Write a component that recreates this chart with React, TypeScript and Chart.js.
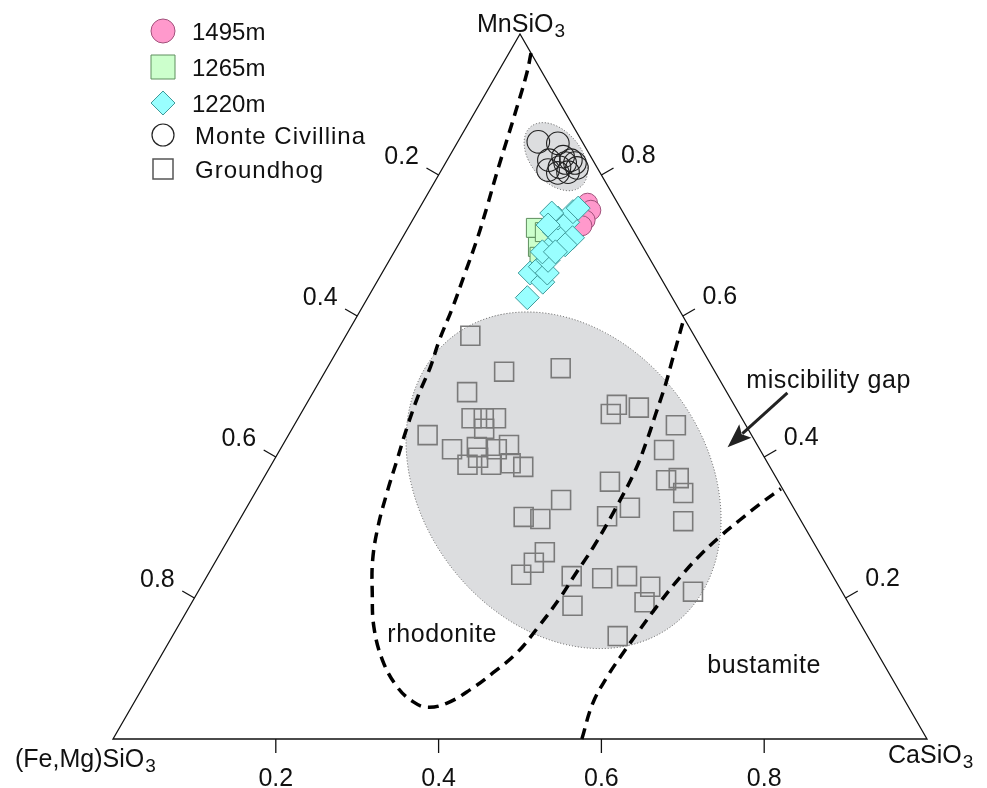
import React, { useEffect, useRef } from 'react';
import { Chart, registerables } from 'chart.js';

Chart.register(...registerables);

// Ternary MnSiO3 – CaSiO3 – (Fe,Mg)SiO3. Every composition is stored as
// CaSiO3 and MnSiO3 mole fractions; (Fe,Mg)SiO3 is the remainder.
const S = Math.sqrt(3) / 2;

// Groundhog pyroxenoids
const groundhogCa = [0.153, 0.220, 0.287, 0.189, 0.213, 0.228, 0.243, 0.236, 0.171, 0.211, 0.240, 0.266, 0.278, 0.249, 0.241, 0.270, 0.293, 0.311, 0.381, 0.347, 0.369, 0.398, 0.392, 0.385, 0.448, 0.487, 0.516, 0.552, 0.556, 0.608, 0.470, 0.547, 0.382, 0.381, 0.411, 0.469, 0.472, 0.496, 0.510, 0.526, 0.428, 0.471, 0.449, 0.546];
const groundhogMn = [0.572, 0.521, 0.526, 0.492, 0.455, 0.455, 0.455, 0.440, 0.431, 0.411, 0.414, 0.411, 0.417, 0.399, 0.389, 0.389, 0.391, 0.386, 0.339, 0.315, 0.312, 0.265, 0.250, 0.233, 0.231, 0.228, 0.231, 0.216, 0.194, 0.209, 0.189, 0.146, 0.474, 0.461, 0.470, 0.445, 0.410, 0.367, 0.370, 0.349, 0.365, 0.328, 0.316, 0.309];

// Monte Civillina
const monteCa = [0.099, 0.124, 0.125, 0.140, 0.152, 0.159, 0.143, 0.131, 0.157, 0.145, 0.165, 0.147];
const monteMn = [0.847, 0.845, 0.821, 0.826, 0.821, 0.817, 0.811, 0.807, 0.804, 0.803, 0.810, 0.817];

// 1495m
const d1495Ca = [0.203, 0.212, 0.212, 0.212];
const d1495Mn = [0.760, 0.750, 0.736, 0.728];

// 1265m
const d1265Ca = [0.157, 0.173, 0.182, 0.171];
const d1265Mn = [0.725, 0.698, 0.684, 0.719];

// 1220m
const d1220Ca = [0.196, 0.182, 0.204, 0.190, 0.203, 0.195, 0.190, 0.194, 0.200, 0.183, 0.177, 0.192, 0.191, 0.195, 0.166, 0.170, 0.209, 0.205, 0.182, 0.198];
const d1220Mn = [0.626, 0.661, 0.648, 0.670, 0.661, 0.679, 0.701, 0.711, 0.715, 0.719, 0.739, 0.733, 0.748, 0.753, 0.746, 0.729, 0.711, 0.701, 0.691, 0.691];

// Rhodonite field boundary
const rhodoniteCa = [0.027, 0.036, 0.048, 0.059, 0.070, 0.082, 0.093, 0.102, 0.111, 0.118, 0.126, 0.131, 0.140, 0.151, 0.162, 0.175, 0.192, 0.215, 0.241, 0.275, 0.312, 0.342, 0.364, 0.385, 0.404, 0.420, 0.435, 0.443, 0.449, 0.451, 0.454, 0.454, 0.451, 0.444, 0.436, 0.428, 0.419, 0.411, 0.403];
const rhodoniteMn = [0.973, 0.945, 0.897, 0.850, 0.803, 0.755, 0.708, 0.661, 0.613, 0.566, 0.528, 0.490, 0.443, 0.396, 0.349, 0.301, 0.254, 0.207, 0.159, 0.112, 0.074, 0.053, 0.045, 0.051, 0.070, 0.094, 0.122, 0.159, 0.200, 0.233, 0.272, 0.325, 0.382, 0.424, 0.462, 0.500, 0.535, 0.566, 0.597];

// Bustamite field boundary
const bustamiteCa = [0.576, 0.564, 0.563, 0.565, 0.569, 0.575, 0.582, 0.591, 0.602, 0.615, 0.628, 0.643];
const bustamiteMn = [0.000, 0.051, 0.088, 0.116, 0.150, 0.194, 0.230, 0.261, 0.287, 0.311, 0.333, 0.355];

// Edge ticks
const edgeTicks = [0.2, 0.4, 0.6, 0.8];
const edgeTickLabels = ['0.2', '0.4', '0.6', '0.8'];

// Shaded composition fields (centre as Ca/Mn fractions, semi-axes in composition units, tilt in degrees)
const groundhogField = { ca: 0.370, mn: 0.367, rx: 0.1745, ry: 0.223, tilt: -37 };
const monteField = { ca: 0.131, mn: 0.826, rx: 0.031, ry: 0.048, tilt: -40 };

// Annotations
const arrowTail = { ca: 0.583, mn: 0.491 };
const arrowTip = { ca: 0.548, mn: 0.414 };
const fieldLabels = [
  { text: 'rhodonite', ca: 0.268, mn: 0.138 },
  { text: 'bustamite', ca: 0.683, mn: 0.094 },
  { text: 'miscibility gap', ca: 0.529, mn: 0.498 },
];

const FONT = '"Liberation Sans", Arial, sans-serif';

const toXY = (ca: number, mn: number) => ({ x: ca + mn / 2, y: mn * S });
const pts = (ca: number[], mn: number[]) => ca.map((c, i) => toXY(c, mn[i]));

function chem(ctx: CanvasRenderingContext2D, base: string, sub: string, x: number, y: number, size: number) {
  ctx.save();
  ctx.textAlign = 'left';
  ctx.textBaseline = 'alphabetic';
  ctx.fillStyle = '#111';
  ctx.font = `${size}px ${FONT}`;
  ctx.fillText(base, x, y);
  const w = ctx.measureText(base).width;
  ctx.font = `${Math.round(size * 0.75)}px ${FONT}`;
  ctx.fillText(sub, x + w + 1, y + 5);
  ctx.restore();
}

function marker(ctx: CanvasRenderingContext2D, kind: string, x: number, y: number, r: number, fill: string, stroke: string, lw: number) {
  ctx.save();
  ctx.beginPath();
  if (kind === 'circle') ctx.arc(x, y, r, 0, Math.PI * 2);
  else if (kind === 'square') ctx.rect(x - r, y - r, 2 * r, 2 * r);
  else {
    ctx.moveTo(x, y - r);
    ctx.lineTo(x + r, y);
    ctx.lineTo(x, y + r);
    ctx.lineTo(x - r, y);
    ctx.closePath();
  }
  if (fill) {
    ctx.fillStyle = fill;
    ctx.fill();
  }
  ctx.lineWidth = lw;
  ctx.strokeStyle = stroke;
  ctx.stroke();
  ctx.restore();
}

const ternaryDecor = {
  id: 'ternaryDecor',
  beforeDatasetsDraw(chart: any) {
    const { ctx, chartArea } = chart;
    const xs = chart.scales.x;
    const ys = chart.scales.y;
    const P = (ca: number, mn: number) => {
      const p = toXY(ca, mn);
      return [xs.getPixelForValue(p.x), ys.getPixelForValue(p.y)];
    };
    const unit = chartArea.width;

    // shaded fields
    for (const f of [groundhogField, monteField]) {
      const [cx, cy] = P(f.ca, f.mn);
      ctx.save();
      ctx.beginPath();
      ctx.ellipse(cx, cy, f.rx * unit, f.ry * unit, (f.tilt * Math.PI) / 180, 0, Math.PI * 2);
      ctx.fillStyle = '#dcdddf';
      ctx.fill();
      ctx.setLineDash([1, 2]);
      ctx.lineWidth = 1;
      ctx.strokeStyle = '#555';
      ctx.stroke();
      ctx.restore();
    }

    // triangle frame
    const A = P(0, 0); // (Fe,Mg)SiO3
    const B = P(1, 0); // CaSiO3
    const C = P(0, 1); // MnSiO3
    ctx.save();
    ctx.strokeStyle = '#111';
    ctx.lineWidth = 1.3;
    ctx.beginPath();
    ctx.moveTo(A[0], A[1]);
    ctx.lineTo(B[0], B[1]);
    ctx.lineTo(C[0], C[1]);
    ctx.closePath();
    ctx.stroke();

    ctx.fillStyle = '#111';
    ctx.font = `25px ${FONT}`;
    ctx.textAlign = 'center';
    ctx.textBaseline = 'alphabetic';
    const len = 14;
    edgeTicks.forEach((t, i) => {
      // bottom edge: CaSiO3
      const [bx, by] = P(t, 0);
      ctx.beginPath();
      ctx.moveTo(bx, by);
      ctx.lineTo(bx, by + len);
      ctx.stroke();
      ctx.fillText(edgeTickLabels[i], bx, by + 47);
      // left edge: (Fe,Mg)SiO3
      const [lx, ly] = P(0, 1 - t);
      ctx.beginPath();
      ctx.moveTo(lx, ly);
      ctx.lineTo(lx - len * S, ly - len / 2);
      ctx.stroke();
      ctx.fillText(edgeTickLabels[i], lx - 37, ly - 11);
      // right edge: MnSiO3
      const [rx, ry] = P(1 - t, t);
      ctx.beginPath();
      ctx.moveTo(rx, ry);
      ctx.lineTo(rx + len * S, ry - len / 2);
      ctx.stroke();
      ctx.fillText(edgeTickLabels[i], rx + 37, ry - 12);
    });
    ctx.restore();

    // apex labels
    chem(ctx, 'MnSiO', '3', C[0] - 43, C[1] - 2, 25);
    chem(ctx, '(Fe,Mg)SiO', '3', A[0] - 98, A[1] + 28, 25);
    chem(ctx, 'CaSiO', '3', B[0] - 39, B[1] + 24, 25);
  },
  afterDatasetsDraw(chart: any) {
    const { ctx } = chart;
    const xs = chart.scales.x;
    const ys = chart.scales.y;
    const P = (ca: number, mn: number) => {
      const p = toXY(ca, mn);
      return [xs.getPixelForValue(p.x), ys.getPixelForValue(p.y)];
    };

    // arrow into the miscibility gap
    const [tx, ty] = P(arrowTail.ca, arrowTail.mn);
    const [hx, hy] = P(arrowTip.ca, arrowTip.mn);
    const dx = hx - tx;
    const dy = hy - ty;
    const d = Math.hypot(dx, dy);
    const ux = dx / d;
    const uy = dy / d;
    const headLen = 24;
    const headW = 9;
    const bx = hx - ux * headLen;
    const by = hy - uy * headLen;
    ctx.save();
    ctx.strokeStyle = '#222';
    ctx.fillStyle = '#222';
    ctx.lineWidth = 3;
    ctx.beginPath();
    ctx.moveTo(tx, ty);
    ctx.lineTo(bx + ux * 4, by + uy * 4);
    ctx.stroke();
    ctx.beginPath();
    ctx.moveTo(hx, hy);
    ctx.lineTo(bx - uy * headW, by + ux * headW);
    ctx.lineTo(bx + ux * 5, by + uy * 5);
    ctx.lineTo(bx + uy * headW, by - ux * headW);
    ctx.closePath();
    ctx.fill();

    // field names
    ctx.font = `25px ${FONT}`;
    ctx.fillStyle = '#111';
    ctx.textAlign = 'left';
    ctx.textBaseline = 'alphabetic';
    (ctx as any).letterSpacing = '0.6px';
    for (const l of fieldLabels) {
      const [lx, ly] = P(l.ca, l.mn);
      ctx.fillText(l.text, lx, ly);
    }

    // legend
    const items = [
      { kind: 'circle', r: 12, fill: '#ff99cc', stroke: '#a0507a', lw: 1, label: '1495m', tx: 192, sp: '0px' },
      { kind: 'square', r: 12, fill: '#ccffcc', stroke: '#5f8f5f', lw: 1, label: '1265m', tx: 192, sp: '0px' },
      { kind: 'diamond', r: 12, fill: '#99ffff', stroke: '#3f9a9a', lw: 1, label: '1220m', tx: 192, sp: '0px' },
      { kind: 'circle', r: 11, fill: '', stroke: '#222', lw: 1.2, label: 'Monte Civillina', tx: 195, sp: '1px' },
      { kind: 'square', r: 10, fill: '', stroke: '#555', lw: 1.5, label: 'Groundhog', tx: 195, sp: '1px' },
    ];
    const rows = [31, 67, 103, 135, 169];
    items.forEach((it, i) => {
      marker(ctx, it.kind, 163, rows[i], it.r, it.fill, it.stroke, it.lw);
      ctx.fillStyle = '#111';
      ctx.font = `24px ${FONT}`;
      (ctx as any).letterSpacing = it.sp;
      ctx.fillText(it.label, it.tx, rows[i] + 9);
    });
    (ctx as any).letterSpacing = '0px';
    ctx.restore();
  },
};

export default function App() {
  const ref = useRef<HTMLCanvasElement | null>(null);

  useEffect(() => {
    if (!ref.current) return;
    const chart = new Chart(ref.current, {
      type: 'scatter',
      data: {
        datasets: [
          {
            label: 'rhodonite',
            data: pts(rhodoniteCa, rhodoniteMn),
            showLine: true,
            pointRadius: 0,
            borderColor: '#000',
            borderWidth: 3.5,
            borderDash: [11, 7],
            tension: 0.4,
            fill: false,
          },
          {
            label: 'bustamite',
            data: pts(bustamiteCa, bustamiteMn),
            showLine: true,
            pointRadius: 0,
            borderColor: '#000',
            borderWidth: 3.5,
            borderDash: [11, 7],
            tension: 0.4,
            fill: false,
          },
          {
            label: '1220m',
            data: pts(d1220Ca, d1220Mn),
            pointStyle: 'rectRot',
            pointRadius: 12,
            backgroundColor: '#99ffff',
            borderColor: '#3f9a9a',
            borderWidth: 1,
          },
          {
            label: '1265m',
            data: pts(d1265Ca, d1265Mn),
            pointStyle: 'rect',
            pointRadius: 13.4,
            backgroundColor: '#ccffcc',
            borderColor: '#5f8f5f',
            borderWidth: 1,
          },
          {
            label: '1495m',
            data: pts(d1495Ca, d1495Mn),
            pointStyle: 'circle',
            pointRadius: 10,
            backgroundColor: '#ff99cc',
            borderColor: '#a0507a',
            borderWidth: 1,
          },
          {
            label: 'Monte Civillina',
            data: pts(monteCa, monteMn),
            pointStyle: 'circle',
            pointRadius: 11.3,
            backgroundColor: 'rgba(0,0,0,0)',
            borderColor: '#222',
            borderWidth: 1.1,
          },
          {
            label: 'Groundhog',
            data: pts(groundhogCa, groundhogMn),
            pointStyle: 'rect',
            pointRadius: 13.4,
            backgroundColor: 'rgba(0,0,0,0)',
            borderColor: '#7a7a7a',
            borderWidth: 1.6,
          },
        ],
      },
      options: {
        animation: false,
        responsive: false,
        devicePixelRatio: 1,
        events: [],
        layout: { padding: { left: 113, right: 60, top: 34, bottom: 49 } },
        scales: {
          x: { type: 'linear', min: 0, max: 1, display: false },
          y: { type: 'linear', min: 0, max: S, display: false },
        },
        plugins: {
          legend: { display: false },
          tooltip: { enabled: false },
        },
        elements: { point: { hoverRadius: 0 } },
        clip: false,
      } as any,
      plugins: [ternaryDecor],
    });
    return () => chart.destroy();
  }, []);

  return (
    <div style={{ position: 'absolute', left: 0, top: 0, width: 987, height: 788, background: '#fff' }}>
      <canvas ref={ref} width={987} height={788} />
    </div>
  );
}
